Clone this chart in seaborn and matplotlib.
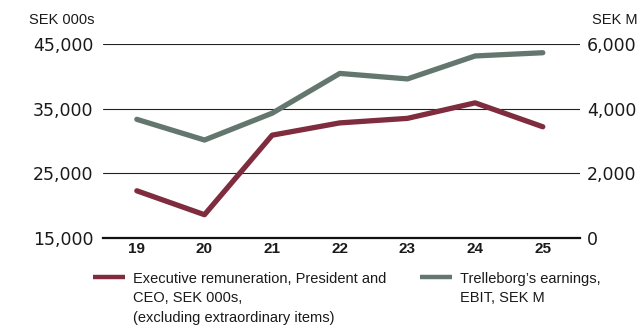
import matplotlib
matplotlib.use("Agg")
import matplotlib.pyplot as plt
import seaborn as sns
import pandas as pd
from matplotlib.lines import Line2D

years = ["19", "20", "21", "22", "23", "24", "25"]
remuneration = [22300, 18600, 30900, 32800, 33500, 35900, 32200]   # SEK 000s
ebit = [3670, 3030, 3860, 5090, 4920, 5630, 5730]                   # SEK M
left_ticks = [15000, 25000, 35000, 45000]
right_ticks = [0, 2000, 4000, 6000]
label_rem = "Executive remuneration, President and\nCEO, SEK 000s,\n(excluding extraordinary items)"
label_ebit = "Trelleborg’s earnings,\nEBIT, SEK M"

RED = "#7e2c3e"
GREEN = "#64776f"

sns.set_theme(style="white")
plt.rcParams["font.family"] = ["Liberation Sans", "DejaVu Sans"]

df = pd.DataFrame({"year": years, "rem": remuneration, "ebit": ebit})

fig = plt.figure(figsize=(6.41, 3.25), dpi=100)
ax = fig.add_axes([103 / 641, 1 - 238 / 325, (580 - 103) / 641, (238 - 44) / 325])
ax2 = ax.twinx()

sns.lineplot(data=df, x="year", y="rem", ax=ax, color=RED, lw=3.8, sort=False)
sns.lineplot(data=df, x="year", y="ebit", ax=ax2, color=GREEN, lw=3.8, sort=False)

ax.set_ylim(15000, 45000)
ax2.set_ylim(0, 6000)
ax.set_xlim(-0.5, 6.55)

ax.set_yticks(left_ticks)
ax.set_yticklabels([f"{v:,}" for v in left_ticks], fontfamily="DejaVu Sans", fontsize=12.5, color="#1a1a1a")
ax2.set_yticks(right_ticks)
ax2.set_yticklabels([f"{v:,}" for v in right_ticks], fontfamily="DejaVu Sans", fontsize=12.5, color="#1a1a1a")

ax.set_xticks(range(len(years)))
ax.set_xticklabels(years, fontweight="bold", fontsize=11, color="#1a1a1a")

ax.tick_params(axis="y", length=0, pad=7)
ax2.tick_params(axis="y", length=0, pad=5)
ax.tick_params(axis="x", length=0, pad=3)

ax.set_xlabel("")
ax.set_ylabel("")
ax2.set_ylabel("")

for a in (ax, ax2):
    for s in ("top", "right", "left", "bottom"):
        a.spines[s].set_visible(False)
ax.spines["bottom"].set_visible(True)
ax.spines["bottom"].set_color("#111111")
ax.spines["bottom"].set_linewidth(1.6)

ax.set_axisbelow(True)
ax.yaxis.grid(True, color="#222222", lw=0.8)
ax.xaxis.grid(False)
ax2.grid(False)

fig.text(29 / 641, 1 - 20 / 325, "SEK 000s", fontsize=10.5, ha="left", va="center", color="#1a1a1a")
fig.text(638 / 641, 1 - 20 / 325, "SEK M", fontsize=10.5, ha="right", va="center", color="#1a1a1a")

handles = [Line2D([], [], color=RED, lw=3.2, solid_capstyle="butt"),
           Line2D([], [], color=GREEN, lw=3.2, solid_capstyle="butt")]
leg = fig.legend(handles, [label_rem, label_ebit], ncol=2, frameon=False,
                 loc="upper left", bbox_to_anchor=(93 / 641, 1 - 272 / 325),
                 borderpad=0, borderaxespad=0, fontsize=10.5, handlelength=2.2,
                 handletextpad=0.55, columnspacing=2.3, labelspacing=0.3)
for t in leg.get_texts():
    t.set_color("#1a1a1a")
    t.set_linespacing(1.5)
leg._legend_handle_box.align = "top"
for col in leg._legend_handle_box.get_children():
    col.align = "left"
    for item in col.get_children():
        item.align = "top"

fig.savefig("out.png", dpi=100)
